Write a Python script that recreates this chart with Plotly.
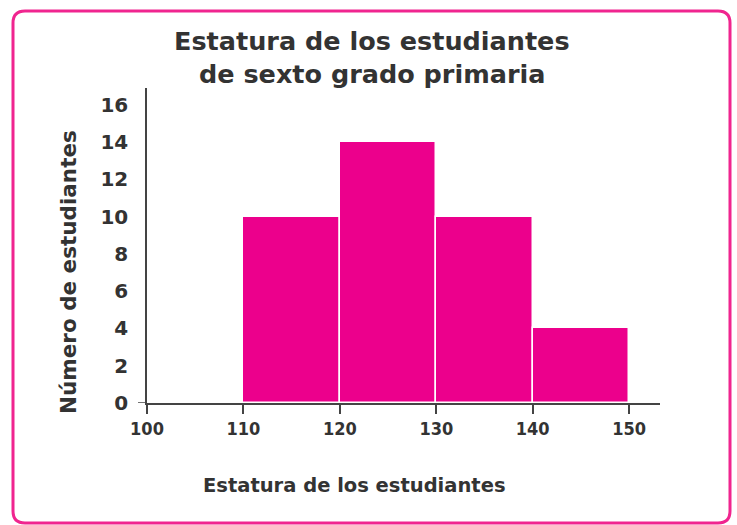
import plotly.graph_objects as go

bin_centers = [115, 125, 135, 145]
counts = [10, 14, 10, 4]
x_ticks = [100, 110, 120, 130, 140, 150]
y_ticks = [0, 2, 4, 6, 8, 10, 12, 14, 16]

title_lines = ["Estatura de los estudiantes", "de sexto grado primaria"]
x_title = "Estatura de los estudiantes"
y_title = "Número de estudiantes"

W, H = 737, 525
L, R, T, B = 147, 77, 88, 122
pw, ph = W - L - R, H - T - B

def px(x):
    return (x - L) / pw

def py(y):
    return (H - B - y) / ph

TFONT = "DejaVu Sans"
TXT = "#333333"
PINK = "#EC008C"
BORDER = "#F0258F"

fig = go.Figure()
fig.add_trace(go.Bar(
    x=bin_centers, y=counts, width=10,
    marker=dict(color=PINK, line=dict(color="white", width=1.5)),
    hoverinfo="x+y",
))

# rounded border path in paper coords
x0, x1 = px(13), px(730)
y0, y1 = py(523), py(11)
rx, ry = 12 / pw, 12 / ph
path = (f"M {x0+rx},{y1} L {x1-rx},{y1} Q {x1},{y1} {x1},{y1-ry} "
        f"L {x1},{y0+ry} Q {x1},{y0} {x1-rx},{y0} L {x0+rx},{y0} "
        f"Q {x0},{y0} {x0},{y0+ry} L {x0},{y1-ry} Q {x0},{y1} {x0+rx},{y1} Z")

title_font = dict(family=TFONT, size=25.5, color=TXT, weight="bold")

fig.update_layout(
    width=W, height=H,
    margin=dict(l=L, r=R, t=T, b=B, autoexpand=False),
    paper_bgcolor="white", plot_bgcolor="white",
    showlegend=False,
    bargap=0,
    font=dict(family=TFONT, color=TXT),
    xaxis=dict(range=[100, 153.2], tickvals=x_ticks, ticks="outside", ticklen=9,
               tickwidth=1.5, tickcolor="#444", showline=True, linecolor="#444",
               linewidth=1.5, showgrid=False, zeroline=False, automargin=False,
               tickfont=dict(family="DejaVu Sans Condensed, DejaVu Sans", size=18,
                             color=TXT, weight="bold")),
    yaxis=dict(range=[0, 16.9], tickvals=y_ticks, ticks="", showline=True,
               linecolor="#444", linewidth=1.5, showgrid=False, zeroline=False,
               ticklabelstandoff=13, automargin=False,
               tickfont=dict(family=TFONT, size=20, color=TXT, weight="bold")),
    annotations=[
        dict(text=title_lines[0], xref="paper", yref="paper", x=px(372), y=py(58),
             xanchor="center", yanchor="bottom", showarrow=False, font=title_font),
        dict(text=title_lines[1], xref="paper", yref="paper", x=px(372), y=py(57.5),
             xanchor="center", yanchor="top", showarrow=False, font=title_font),
        dict(text=x_title, xref="paper", yref="paper", x=px(354), y=py(485),
             xanchor="center", yanchor="middle", showarrow=False,
             font=dict(family=TFONT, size=19.5, color=TXT, weight="bold")),
        dict(text=y_title, xref="paper", yref="paper", x=px(68), y=py(272),
             xanchor="center", yanchor="middle", showarrow=False, textangle=-90,
             font=dict(family=TFONT, size=21.5, color=TXT, weight="bold")),
    ],
    shapes=[
        dict(type="line", xref="paper", yref="y", x0=px(138), x1=0, y0=0, y1=0,
             line=dict(color="#444", width=1.5)),
        dict(type="path", xref="paper", yref="paper", path=path,
             line=dict(color=BORDER, width=3), fillcolor="rgba(0,0,0,0)", layer="below"),
    ],
)

fig.write_html("out.html", config={"displayModeBar": False},
               post_script="document.body.style.margin='0';")
